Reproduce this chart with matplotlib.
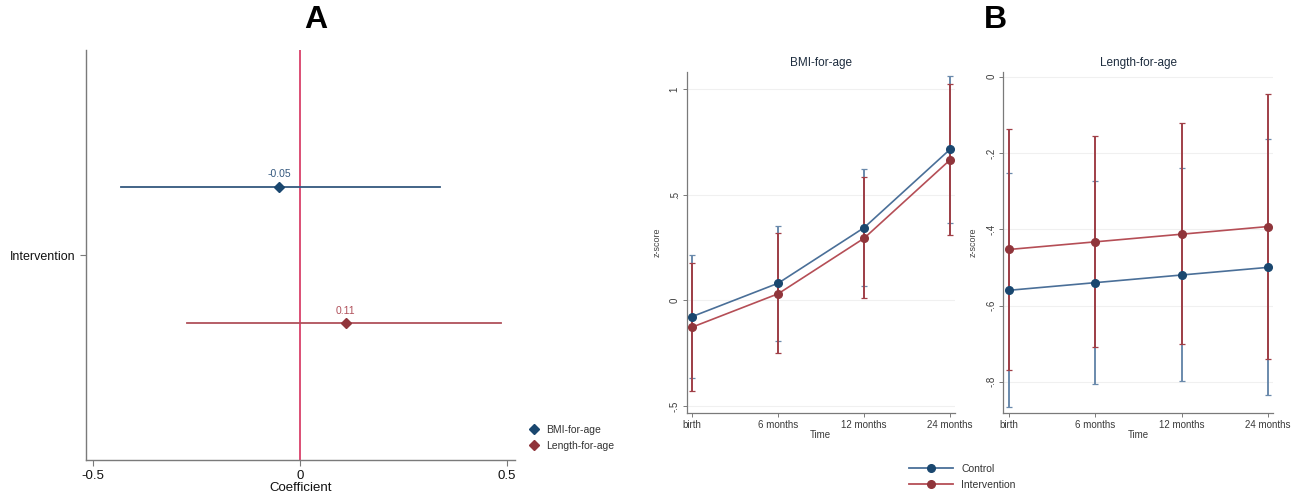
import matplotlib
matplotlib.use("Agg")
import matplotlib.pyplot as plt
import numpy as np
from matplotlib.lines import Line2D

plt.rcParams['font.family'] = ['Liberation Sans', 'DejaVu Sans']

# ---------------- data ----------------
# Panel A: coefficient plot
coef_labels = ["BMI-for-age", "Length-for-age"]
coef_values = [-0.05, 0.11]
coef_lo = [-0.432, -0.273]
coef_hi = [0.338, 0.486]
coef_text = ["-0.05", "0.11"]

# Panel B: time points
time_labels = ["birth", "6 months", "12 months", "24 months"]

bmi_control = [-0.076, 0.082, 0.345, 0.716]
bmi_control_lo = [-0.367, -0.191, 0.069, 0.369]
bmi_control_hi = [0.216, 0.353, 0.621, 1.063]
bmi_interv = [-0.126, 0.032, 0.295, 0.666]
bmi_interv_lo = [-0.430, -0.249, 0.011, 0.308]
bmi_interv_hi = [0.180, 0.319, 0.585, 1.024]

len_control = [-0.560, -0.540, -0.520, -0.500]
len_control_lo = [-0.866, -0.806, -0.798, -0.835]
len_control_hi = [-0.252, -0.273, -0.240, -0.164]
len_interv = [-0.453, -0.433, -0.413, -0.393]
len_interv_lo = [-0.768, -0.710, -0.702, -0.739]
len_interv_hi = [-0.138, -0.155, -0.122, -0.045]

W, H = 1303, 498
fig = plt.figure(figsize=(W / 100, H / 100), dpi=100)

def ax_px(l, r, t, b):
    return fig.add_axes([l / W, (H - b) / H, (r - l) / W, (b - t) / H])

BLUE_M = "#1a476f"
RED_M = "#90353b"
BLUE_L = "#4a6f98"
RED_L = "#b54e56"
BLUE_E = "#6a8aac"
RED_E = "#a03f47"
SPINE = "#7a7a7a"

# ---------------- Panel A ----------------
axA = ax_px(86, 515, 50, 460)
offsets = [1 / 3, -1 / 3]
cols_m = [BLUE_M, RED_M]
cols_l = ["#34587e", "#b0505a"]
axA.axvline(0, color="#d9406a", lw=1.3, zorder=1)
for i in range(2):
    y = offsets[i]
    axA.plot([coef_lo[i], coef_hi[i]], [y, y], color=cols_l[i], lw=1.3, zorder=2)
    axA.plot([coef_values[i]], [y], marker="D", ms=5, color=cols_m[i], ls="none",
             zorder=3, label=coef_labels[i])
    axA.text(coef_values[i], y + 0.035, coef_text[i], ha="center", va="bottom",
             fontsize=7.5, color=cols_l[i])
axA.set_xlim(-0.517, 0.519)
axA.set_ylim(-1, 1)
axA.set_xticks([-0.5, 0, 0.5])
axA.set_xticklabels(["-0.5", "0", "0.5"])
axA.set_yticks([0])
axA.set_yticklabels(["Intervention"])
axA.tick_params(axis="x", labelsize=9.5, colors="#111111", length=4, width=0.8)
axA.tick_params(axis="y", labelsize=9, colors="#111111", length=4, width=0.8)
axA.tick_params(axis="both", color=SPINE)
for s in ["top", "right"]:
    axA.spines[s].set_visible(False)
for s in ["left", "bottom"]:
    axA.spines[s].set_color(SPINE)
    axA.spines[s].set_linewidth(1.0)
axA.set_xlabel("Coefficient", fontsize=9.5, color="#111111", labelpad=0)
fig.text(316 / W, 1 - 20 / H, "A", ha="center", va="center", fontsize=23, fontweight="bold")

legA = fig.legend(*axA.get_legend_handles_labels(), loc="center left",
                  bbox_to_anchor=(520 / W, 1 - 438 / H), frameon=False, fontsize=7.5,
                  handlelength=0.8, handletextpad=0.8, labelspacing=0.6)
for t in legA.get_texts():
    t.set_color("#333333")

# ---------------- Panel B ----------------
x = np.arange(len(time_labels))

def panelB(ax, ctrl, clo, chi, intv, ilo, ihi, title, yticks, ytlabels, ylim, xlim):
    for yt in yticks:
        ax.axhline(yt, color="#f0f0f0", lw=0.8, zorder=0)
    ax.errorbar(x, ctrl, yerr=[np.array(ctrl) - np.array(clo), np.array(chi) - np.array(ctrl)],
                fmt="none", ecolor=BLUE_E, elinewidth=1.4, capsize=2, capthick=0.9, zorder=2)
    ax.errorbar(x, intv, yerr=[np.array(intv) - np.array(ilo), np.array(ihi) - np.array(intv)],
                fmt="none", ecolor=RED_E, elinewidth=1.4, capsize=2, capthick=0.9, zorder=2)
    ax.plot(x, ctrl, color=BLUE_L, lw=1.2, zorder=3)
    ax.plot(x, intv, color=RED_L, lw=1.2, zorder=3)
    ax.plot(x, ctrl, "o", color=BLUE_M, ms=5.5, zorder=4)
    ax.plot(x, intv, "o", color=RED_M, ms=5.5, zorder=4)
    ax.set_xlim(*xlim)
    ax.set_ylim(*ylim)
    ax.set_xticks(x)
    ax.set_xticklabels(time_labels)
    ax.set_yticks(yticks)
    ax.set_yticklabels(ytlabels, rotation=90, va="center")
    ax.tick_params(axis="both", labelsize=7, colors="#3a3a3a", length=3, width=0.7, pad=2)
    ax.tick_params(axis="both", color=SPINE)
    for s in ["top", "right"]:
        ax.spines[s].set_visible(False)
    for s in ["left", "bottom"]:
        ax.spines[s].set_color(SPINE)
        ax.spines[s].set_linewidth(0.9)
    ax.set_xlabel("Time", fontsize=7, color="#3a3a3a", labelpad=0)
    ax.set_ylabel("z-score", fontsize=6.5, color="#444444", labelpad=6)
    ax.set_title(title, fontsize=8.5, color="#1e2d3f", pad=4)

axB1 = ax_px(686.7, 955, 71.7, 413)
panelB(axB1, bmi_control, bmi_control_lo, bmi_control_hi,
       bmi_interv, bmi_interv_lo, bmi_interv_hi, "BMI-for-age",
       [-0.5, 0, 0.5, 1], ["-.5", "0", ".5", "1"], (-0.533, 1.084), (-0.065, 3.058))

axB2 = ax_px(1003.3, 1273, 71.7, 412.7)
panelB(axB2, len_control, len_control_lo, len_control_hi,
       len_interv, len_interv_lo, len_interv_hi, "Length-for-age",
       [-0.8, -0.6, -0.4, -0.2, 0], ["-.8", "-.6", "-.4", "-.2", "0"], (-0.881, 0.013), (-0.07, 3.06))

fig.text(995 / W, 1 - 20 / H, "B", ha="center", va="center", fontsize=23, fontweight="bold")

hB = [Line2D([], [], color=BLUE_L, lw=1.3, marker="o", ms=5.5, mfc=BLUE_M, mec=BLUE_M),
      Line2D([], [], color=RED_L, lw=1.3, marker="o", ms=5.5, mfc=RED_M, mec=RED_M)]
legB = fig.legend(hB, ["Control", "Intervention"], loc="center left",
                  bbox_to_anchor=(900 / W, 1 - 477 / H), frameon=False, fontsize=7.5,
                  handlelength=4.2, handletextpad=0.8, labelspacing=0.55)
for t in legB.get_texts():
    t.set_color("#333333")

fig.savefig("out.png", dpi=100)
